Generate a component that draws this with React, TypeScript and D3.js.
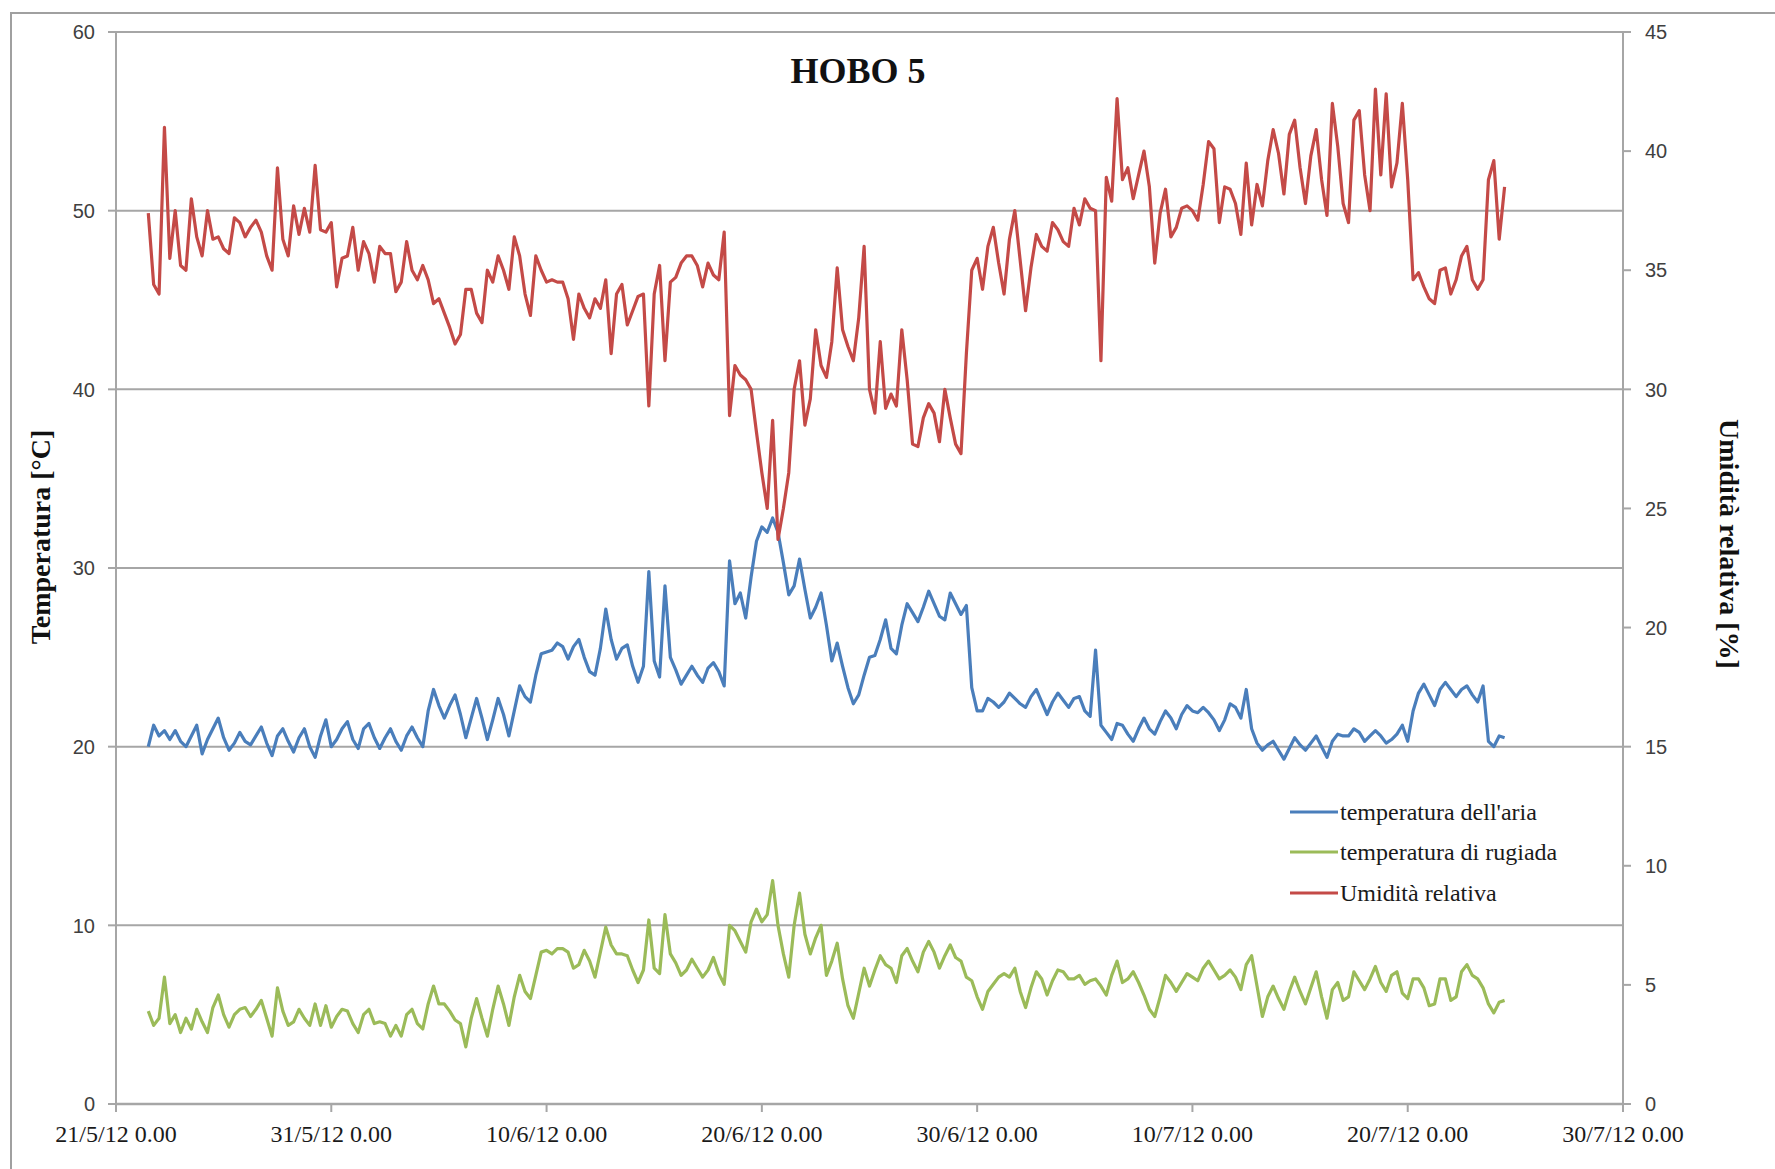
import React from "react";
import * as d3 from "d3";

// ---- data (6-hour samples starting 22/5/12 12:00) ----
const START = new Date(2012, 4, 22, 12, 0);
const STEP_HOURS = 6;

const airTemp = [
  20.0, 21.2, 20.6, 20.9,
  20.4, 20.9, 20.3, 20.0,
  20.6, 21.2, 19.6, 20.4,
  21.0, 21.6, 20.5, 19.8,
  20.2, 20.8, 20.3, 20.1,
  20.6, 21.1, 20.2, 19.5,
  20.6, 21.0, 20.3, 19.7,
  20.5, 21.0, 20.0, 19.4,
  20.6, 21.5, 20.0, 20.4,
  21.0, 21.4, 20.4, 19.9,
  21.0, 21.3, 20.5, 19.9,
  20.5, 21.0, 20.3, 19.8,
  20.6, 21.1, 20.5, 20.0,
  22.0, 23.2, 22.3, 21.6,
  22.3, 22.9, 21.8, 20.5,
  21.6, 22.7, 21.6, 20.4,
  21.5, 22.7, 21.8, 20.6,
  22.0, 23.4, 22.8, 22.5,
  24.0, 25.2, 25.3, 25.4,
  25.8, 25.6, 24.9, 25.6,
  26.0, 25.0, 24.2, 24.0,
  25.5, 27.7, 26.0, 24.9,
  25.5, 25.7, 24.5, 23.6,
  24.5, 29.8, 24.8, 23.9,
  29.0, 25.0, 24.3, 23.5,
  24.0, 24.5, 24.0, 23.6,
  24.4, 24.7, 24.2, 23.4,
  30.4, 28.0, 28.6, 27.2,
  29.5, 31.5, 32.3, 32.0,
  32.8, 32.0, 30.3, 28.5,
  29.0, 30.5, 28.8, 27.2,
  27.8, 28.6, 26.8, 24.8,
  25.8, 24.5, 23.3, 22.4,
  22.9, 24.0, 25.0, 25.1,
  26.0, 27.1, 25.5, 25.2,
  26.8, 28.0, 27.5, 27.0,
  27.8, 28.7, 28.0, 27.3,
  27.1, 28.6, 28.0, 27.4,
  27.9, 23.3, 22.0, 22.0,
  22.7, 22.5, 22.2, 22.5,
  23.0, 22.7, 22.4, 22.2,
  22.8, 23.2, 22.5, 21.8,
  22.5, 23.0, 22.6, 22.2,
  22.7, 22.8, 22.0, 21.7,
  25.4, 21.2, 20.8, 20.4,
  21.3, 21.2, 20.7, 20.3,
  21.0, 21.6, 21.0, 20.7,
  21.4, 22.0, 21.6, 21.0,
  21.8, 22.3, 22.0, 21.9,
  22.2, 21.9, 21.5, 20.9,
  21.5, 22.4, 22.2, 21.6,
  23.2, 21.0, 20.2, 19.8,
  20.1, 20.3, 19.8, 19.3,
  19.9, 20.5, 20.1, 19.8,
  20.2, 20.6, 20.0, 19.4,
  20.3, 20.7, 20.6, 20.6,
  21.0, 20.8, 20.3, 20.6,
  20.9, 20.6, 20.2, 20.4,
  20.7, 21.2, 20.3, 22.0,
  23.0, 23.5, 22.9, 22.3,
  23.2, 23.6, 23.2, 22.8,
  23.2, 23.4, 22.9, 22.5,
  23.4, 20.3, 20.0, 20.6,
  20.5,
];

const dewPoint = [
  5.2, 4.4, 4.8, 7.1,
  4.5, 5.0, 4.0, 4.8,
  4.2, 5.3, 4.6, 4.0,
  5.4, 6.1, 5.0, 4.3,
  5.0, 5.3, 5.4, 4.9,
  5.3, 5.8, 4.8, 3.8,
  6.5, 5.2, 4.4, 4.6,
  5.3, 4.8, 4.4, 5.6,
  4.4, 5.5, 4.3, 4.9,
  5.3, 5.2, 4.5, 4.0,
  5.0, 5.3, 4.5, 4.6,
  4.5, 3.8, 4.4, 3.8,
  5.0, 5.3, 4.5, 4.2,
  5.6, 6.6, 5.6, 5.6,
  5.2, 4.7, 4.5, 3.2,
  4.8, 5.9, 4.8, 3.8,
  5.3, 6.6, 5.6, 4.4,
  6.0, 7.2, 6.3, 5.9,
  7.2, 8.5, 8.6, 8.4,
  8.7, 8.7, 8.5, 7.6,
  7.8, 8.6, 8.0, 7.1,
  8.5, 9.9, 8.9, 8.4,
  8.4, 8.3, 7.5, 6.8,
  7.5, 10.3, 7.6, 7.3,
  10.6, 8.4, 7.9, 7.2,
  7.5, 8.1, 7.6, 7.1,
  7.5, 8.2, 7.3, 6.7,
  10.0, 9.7, 9.1, 8.5,
  10.2, 10.9, 10.2, 10.6,
  12.5, 10.0, 8.4, 7.1,
  10.0, 11.8, 9.5, 8.4,
  9.3, 10.0, 7.2, 8.0,
  9.0, 7.0, 5.5, 4.8,
  6.2, 7.6, 6.6, 7.5,
  8.3, 7.8, 7.6, 6.8,
  8.3, 8.7, 8.0, 7.4,
  8.5, 9.1, 8.5, 7.6,
  8.3, 8.9, 8.2, 8.0,
  7.1, 6.9, 6.0, 5.3,
  6.3, 6.7, 7.1, 7.3,
  7.1, 7.6, 6.3, 5.4,
  6.5, 7.4, 7.0, 6.1,
  6.9, 7.5, 7.4, 7.0,
  7.0, 7.2, 6.7, 6.9,
  7.0, 6.6, 6.1, 7.2,
  8.0, 6.8, 7.0, 7.4,
  6.8, 6.1, 5.3, 4.9,
  6.0, 7.2, 6.8, 6.3,
  6.8, 7.3, 7.1, 6.9,
  7.6, 8.0, 7.5, 7.0,
  7.2, 7.5, 7.1, 6.4,
  7.8, 8.3, 6.6, 4.9,
  6.0, 6.6, 5.9, 5.3,
  6.3, 7.1, 6.3, 5.6,
  6.5, 7.4, 6.0, 4.8,
  6.4, 6.8, 5.8, 6.0,
  7.4, 6.9, 6.4, 7.0,
  7.7, 6.8, 6.3, 7.2,
  7.4, 6.2, 5.9, 7.0,
  7.0, 6.5, 5.5, 5.6,
  7.0, 7.0, 5.8, 6.0,
  7.4, 7.8, 7.2, 7.0,
  6.5, 5.6, 5.1, 5.7,
  5.8,
];

const relHumidity = [
  37.4, 34.4, 34.0, 41.0,
  35.5, 37.5, 35.2, 35.0,
  38.0, 36.4, 35.6, 37.5,
  36.3, 36.4, 35.9, 35.7,
  37.2, 37.0, 36.4, 36.8,
  37.1, 36.6, 35.6, 35.0,
  39.3, 36.3, 35.6, 37.7,
  36.5, 37.6, 36.6, 39.4,
  36.7, 36.6, 37.0, 34.3,
  35.5, 35.6, 36.8, 35.0,
  36.2, 35.7, 34.5, 36.0,
  35.7, 35.7, 34.1, 34.5,
  36.2, 35.0, 34.6, 35.2,
  34.6, 33.6, 33.8, 33.2,
  32.6, 31.9, 32.3, 34.2,
  34.2, 33.2, 32.8, 35.0,
  34.5, 35.6, 35.0, 34.2,
  36.4, 35.6, 34.0, 33.1,
  35.6, 35.0, 34.5, 34.6,
  34.5, 34.5, 33.8, 32.1,
  34.0, 33.4, 33.0, 33.8,
  33.4, 34.6, 31.5, 34.0,
  34.4, 32.7, 33.3, 33.9,
  34.0, 29.3, 34.0, 35.2,
  31.2, 34.5, 34.7, 35.3,
  35.6, 35.6, 35.2, 34.3,
  35.3, 34.8, 34.6, 36.6,
  28.9, 31.0, 30.6, 30.4,
  30.0, 28.2, 26.5, 25.0,
  28.7, 23.7, 25.0, 26.5,
  30.0, 31.2, 28.5, 29.6,
  32.5, 31.0, 30.5, 32.0,
  35.1, 32.5, 31.8, 31.2,
  33.0, 36.0, 30.0, 29.0,
  32.0, 29.2, 29.8, 29.3,
  32.5, 30.4, 27.7, 27.6,
  28.8, 29.4, 29.0, 27.8,
  30.0, 28.8, 27.7, 27.3,
  31.5, 35.0, 35.5, 34.2,
  36.0, 36.8, 35.3, 34.0,
  36.3, 37.5, 35.4, 33.3,
  35.1, 36.5, 36.0, 35.8,
  37.0, 36.7, 36.2, 36.0,
  37.6, 36.9, 38.0, 37.6,
  37.5, 31.2, 38.9, 37.9,
  42.2, 38.8, 39.3, 38.0,
  39.0, 40.0, 38.5, 35.3,
  37.4, 38.4, 36.4, 36.8,
  37.6, 37.7, 37.5, 37.1,
  38.6, 40.4, 40.1, 37.0,
  38.5, 38.4, 37.8, 36.5,
  39.5, 36.9, 38.6, 37.7,
  39.6, 40.9, 39.9, 38.2,
  40.7, 41.3, 39.3, 37.8,
  39.8, 40.9, 38.8, 37.3,
  42.0, 40.2, 37.8, 37.0,
  41.3, 41.7, 39.0, 37.5,
  42.6, 39.0, 42.4, 38.5,
  39.5, 42.0, 38.8, 34.6,
  34.9, 34.3, 33.8, 33.6,
  35.0, 35.1, 34.0, 34.6,
  35.6, 36.0, 34.6, 34.2,
  34.6, 38.8, 39.6, 36.3,
  38.5,
];

const tempTicks = [0, 10, 20, 30, 40, 50, 60];
const rhTicks = [0, 5, 10, 15, 20, 25, 30, 35, 40, 45];
const xTickLabels = [
  "21/5/12 0.00",
  "31/5/12 0.00",
  "10/6/12 0.00",
  "20/6/12 0.00",
  "30/6/12 0.00",
  "10/7/12 0.00",
  "20/7/12 0.00",
  "30/7/12 0.00",
];
const seriesNames = ["temperatura dell'aria", "temperatura di rugiada", "Umidità relativa"];

// ---- layout ----
const W = 1775;
const H = 1169;
const PL = 116;
const PR = 1623;
const PT = 32;
const PB = 1104;

const SERIF = "'Liberation Serif', 'Times New Roman', serif";
const SANS = "'Liberation Sans', Arial, sans-serif";
const BLUE = "#4a7ebb";
const GREEN = "#9bbb59";
const RED = "#c44a47";
const GRID = "#a6a6a6";

const X_START = new Date(2012, 4, 21);
const X_END = new Date(2012, 6, 30);

export default function App() {
  const x = d3.scaleTime().domain([X_START, X_END]).range([PL, PR]);
  const yT = d3.scaleLinear().domain([0, 60]).range([PB, PT]);
  const yRH = d3.scaleLinear().domain([0, 45]).range([PB, PT]);
  const tAt = (i: number) => d3.timeHour.offset(START, i * STEP_HOURS);

  const lineT = d3
    .line<number>()
    .x((_, i) => x(tAt(i)))
    .y((v) => yT(v));
  const lineRH = d3
    .line<number>()
    .x((_, i) => x(tAt(i)))
    .y((v) => yRH(v));

  const xTicks = xTickLabels.map((_, i) => d3.timeDay.offset(X_START, i * 10));

  const legendY = [812, 852, 893];
  const legendColors = [BLUE, GREEN, RED];

  return (
    <svg
      width={W}
      height={H}
      style={{ position: "absolute", left: 0, top: 0, background: "#fff" }}
    >
      <rect x={0} y={0} width={W} height={H} fill="#fff" />
      {/* outer chart border */}
      <rect x={11} y={13} width={W + 20} height={H + 20} fill="none" stroke="#a0a0a0" strokeWidth={2} />

      {/* gridlines */}
      {tempTicks
        .filter((t) => t > 0)
        .map((t) => (
          <line key={"g" + t} x1={PL} x2={PR} y1={yT(t)} y2={yT(t)} stroke={GRID} strokeWidth={2} />
        ))}

      {/* axes lines */}
      <line x1={PL} x2={PL} y1={PT} y2={PB} stroke={GRID} strokeWidth={2} />
      <line x1={PR} x2={PR} y1={PT} y2={PB} stroke={GRID} strokeWidth={2} />
      <line x1={PL} x2={PR} y1={PB} y2={PB} stroke={GRID} strokeWidth={2.5} />

      {/* left ticks */}
      {tempTicks.map((t) => (
        <g key={"lt" + t}>
          <line x1={PL - 8} x2={PL} y1={yT(t)} y2={yT(t)} stroke={GRID} strokeWidth={2} />
          <text
            x={95}
            y={yT(t)}
            dy="0.36em"
            textAnchor="end"
            fontFamily={SANS}
            fontSize={20}
            fill="#404040"
          >
            {t}
          </text>
        </g>
      ))}

      {/* right ticks */}
      {rhTicks.map((t) => (
        <g key={"rt" + t}>
          <line x1={PR} x2={PR + 8} y1={yRH(t)} y2={yRH(t)} stroke={GRID} strokeWidth={2} />
          <text
            x={1645}
            y={yRH(t)}
            dy="0.36em"
            textAnchor="start"
            fontFamily={SANS}
            fontSize={20}
            fill="#404040"
          >
            {t}
          </text>
        </g>
      ))}

      {/* x ticks */}
      {xTicks.map((d, i) => (
        <g key={"xt" + i}>
          <line x1={x(d)} x2={x(d)} y1={PB} y2={PB + 8} stroke={GRID} strokeWidth={2} />
          <text
            x={x(d)}
            y={1142}
            textAnchor="middle"
            fontFamily={SERIF}
            fontSize={24}
            fill="#1a1a1a"
          >
            {xTickLabels[i]}
          </text>
        </g>
      ))}

      {/* series */}
      <path d={lineT(airTemp) || ""} fill="none" stroke={BLUE} strokeWidth={3.2} strokeLinejoin="round" />
      <path d={lineT(dewPoint) || ""} fill="none" stroke={GREEN} strokeWidth={3.2} strokeLinejoin="round" />
      <path d={lineRH(relHumidity) || ""} fill="none" stroke={RED} strokeWidth={3.2} strokeLinejoin="round" />

      {/* title */}
      <text x={858} y={83} textAnchor="middle" fontFamily={SERIF} fontWeight="bold" fontSize={36} fill="#111">
        HOBO 5
      </text>

      {/* axis titles */}
      <text
        transform="translate(50,537) rotate(-90)"
        textAnchor="middle"
        fontFamily={SERIF}
        fontWeight="bold"
        fontSize={28}
        fill="#111"
      >
        Temperatura [°C]
      </text>
      <text
        transform="translate(1720,544) rotate(90)"
        textAnchor="middle"
        fontFamily={SERIF}
        fontWeight="bold"
        fontSize={28}
        fill="#111"
      >
        Umidità relativa [%]
      </text>

      {/* legend */}
      {seriesNames.map((name, i) => (
        <g key={"lg" + i}>
          <line x1={1290} x2={1338} y1={legendY[i]} y2={legendY[i]} stroke={legendColors[i]} strokeWidth={3} />
          <text
            x={1340}
            y={legendY[i]}
            dy="0.33em"
            fontFamily={SERIF}
            fontSize={24}
            fill="#1a1a1a"
          >
            {name}
          </text>
        </g>
      ))}
    </svg>
  );
}
